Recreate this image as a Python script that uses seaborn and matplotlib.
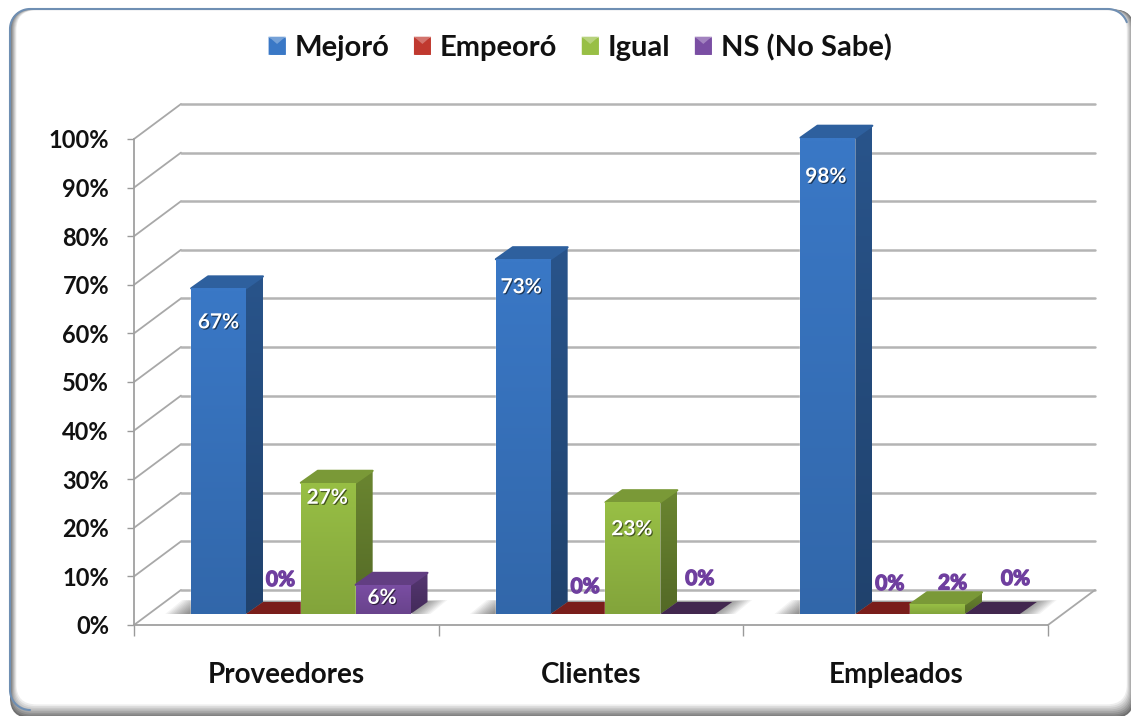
import numpy as np
import pandas as pd
import seaborn as sns
import matplotlib
matplotlib.use("Agg")
import matplotlib.pyplot as plt
import matplotlib.patheffects as pe
from matplotlib.colors import to_rgb
from matplotlib.patches import FancyBboxPatch, Polygon
from matplotlib.path import Path
from matplotlib.ticker import FuncFormatter
from matplotlib.transforms import Affine2D, IdentityTransform

groups = ["Proveedores", "Clientes", "Empleados"]
answers = ["Mejoró", "Empeoró", "Igual", "NS (No Sabe)"]
mejoro = [67, 73, 98]
empeoro = [0, 0, 0]
igual = [27, 23, 2]
no_sabe = [6, 0, 0]
y_ticks = list(range(0, 101, 10))

colors = ["#3a78c6", "#c0392f", "#98bf45", "#7a4ea3"]
zero_caps = ["#2f62a3", "#7a1e1b", "#6f9530", "#42274f"]

# hand placed labels in the original, pixels from the middle of each bar top
label_nudge = [
    [(0, -34), (7, 34), (-1, -15), (-1, -13)],
    [(-2, -28), (7, 27), (-1, -27), (12, 35)],
    [(-2, -39), (7, 30), (15, 21), (23, 35)],
]

# fake 3d: depth of the walls and of the bars, in pixels
WALL_DX, WALL_DY = 47, 35
BAR_DX, BAR_DY = 14.5, 11
SIDE_DX, SIDE_DY = 17, 12


def mix(color, other, amount):
    a = np.array(to_rgb(color))
    b = np.array(to_rgb(other))
    return tuple(a * (1 - amount) + b * amount)


def grad_poly(ax, verts, top, bottom, z):
    xs = [v[0] for v in verts]
    ys = [v[1] for v in verts]
    t = np.linspace(0, 1, 64)[:, None, None]
    arr = np.array(to_rgb(top))[None, None, :] * (1 - t) + np.array(to_rgb(bottom))[None, None, :] * t
    im = ax.imshow(arr, extent=(min(xs), max(xs), min(ys), max(ys)), aspect="auto",
                   transform=IdentityTransform(), zorder=z, interpolation="bilinear")
    im.set_clip_box(ax.figure.bbox)
    im.set_clip_path(Path(verts + [verts[0]]), IdentityTransform())


df = pd.DataFrame({
    "Grupo": groups * 4,
    "Respuesta": np.repeat(answers, 3),
    "Valor": mejoro + empeoro + igual + no_sabe,
})

sns.set_theme(style="white")
plt.rcParams["font.family"] = ["Lato", "DejaVu Sans"]
plt.rcParams["font.weight"] = "bold"
plt.rcParams["text.color"] = "#111111"
plt.rcParams["xtick.labelcolor"] = "#111111"
plt.rcParams["ytick.labelcolor"] = "#111111"

fig = plt.figure(figsize=(11.31, 7.16), dpi=100, facecolor="white")

# card behind the chart: nested boxes fade from the grey edge into white
bg = fig.add_axes([0, 0, 1, 1], zorder=0)
bg.set_xlim(0, 1131)
bg.set_ylim(716, 0)
bg.axis("off")
steps = 9
for k in range(steps):
    left, right = 10 + k * 0.8, 1134 - k * 0.9
    top, bottom = 9.5 + k * 0.1, 718 - k * 1.7
    bg.add_patch(FancyBboxPatch((left, top), right - left, bottom - top,
                                boxstyle="round,pad=0,rounding_size=20",
                                fc=mix("#707070", "white", k / (steps - 1)), ec="none"))
ang = np.radians(np.linspace(180, 90, 20))
arc_tl = np.c_[30 + 20 * np.cos(ang), 29 - 20 * np.sin(ang)]
ang = np.radians(np.linspace(90, 20, 16))
arc_tr = np.c_[1108 + 20 * np.cos(ang), 29 - 20 * np.sin(ang)]
ang = np.radians(np.linspace(270, 180, 20))
arc_bl = np.c_[30 + 20 * np.cos(ang), 690 - 20 * np.sin(ang)]
edge = np.vstack([arc_bl, arc_tl, arc_tr])
bg.plot(edge[:, 0], edge[:, 1], color="#6f8fb3", lw=1.5)

ax = fig.add_axes([134 / 1131, 1 - 625 / 716, 914 / 1131, 486 / 716], zorder=1)
ax.patch.set_alpha(0)
sns.barplot(data=df, x="Grupo", y="Valor", hue="Respuesta", hue_order=answers,
            order=groups, palette=colors, saturation=1, width=0.72, gap=0, ax=ax)
ax.set_xlim(-0.5, 2.5)
ax.set_ylim(0, 100)
ax.set_autoscale_on(False)
ax.set_xlabel("")
ax.set_ylabel("")

ax.set_yticks(y_ticks)
ax.yaxis.set_major_formatter(FuncFormatter(lambda v, _: f"{v:.0f}%"))
ax.tick_params(axis="y", length=5, width=1, color="#9a9a9a", pad=13, labelsize=17, left=True)
ax.tick_params(axis="x", which="major", length=0, pad=26.5, labelsize=20)
ax.set_xticks([-0.5, 0.5, 1.5, 2.5], minor=True)
ax.tick_params(axis="x", which="minor", length=8, width=1, color="#9a9a9a", bottom=True)
for side in ["top", "right"]:
    ax.spines[side].set_visible(False)
for side in ["left", "bottom"]:
    ax.spines[side].set_color("#a0a0a0")
    ax.spines[side].set_linewidth(1.3)
    ax.spines[side].set_zorder(1)

to_px = ax.transData.transform
x0, x1 = ax.get_xlim()

# walls and floor
wall_kw = dict(transform=IdentityTransform(), clip_on=False, zorder=1)
for v in y_ticks:
    fx, fy = to_px((x0, v))
    rx, _ = to_px((x1, v))
    ax.plot([fx, fx + WALL_DX], [fy, fy + WALL_DY], color="#a8a8a8", lw=1.3, **wall_kw)
    ax.plot([fx + WALL_DX, rx + WALL_DX], [fy + WALL_DY, fy + WALL_DY],
            color="#b4b4b4", lw=1.8, **wall_kw)
rx, ry = to_px((x1, 0))
ax.plot([rx, rx + WALL_DX], [ry, ry + WALL_DY], color="#a8a8a8", lw=1.3, **wall_kw)

# bars, left to right so each one covers the side of the one before
shift = ax.transData + Affine2D().translate(BAR_DX, BAR_DY)
containers = list(ax.containers)
for g in range(len(groups)):
    # soft shadow on the floor
    first = containers[0][g]
    last = containers[-1][g]
    left = shift.transform((first.get_x(), 0))[0]
    right = shift.transform((last.get_x() + last.get_width(), 0))[0]
    base = shift.transform((0, 0))[1]
    for k in range(12):
        spread = 26 - k * 2
        ax.add_patch(Polygon([(left - spread, base), (right + spread - 6, base),
                              (right + spread + SIDE_DX - 6, base + SIDE_DY + 2 - k * 0.15),
                              (left - spread + SIDE_DX, base + SIDE_DY + 2 - k * 0.15)],
                             fc="black", ec="none", alpha=0.045,
                             transform=IdentityTransform(), clip_on=False, zorder=2))
    for h, cont in enumerate(containers):
        bar = cont[g]
        z = 3 + g * 4 + h * 0.5
        bar.set_transform(shift)
        bar.set_clip_on(False)
        bar.set_zorder(z)
        c = colors[h]
        bx0, by0 = shift.transform((bar.get_x(), 0))
        bx1, by1 = shift.transform((bar.get_x() + bar.get_width(), bar.get_height()))
        cap = [(bx0, by1), (bx1, by1), (bx1 + SIDE_DX, by1 + SIDE_DY), (bx0 + SIDE_DX, by1 + SIDE_DY)]
        if bar.get_height() == 0:
            ax.add_patch(Polygon(cap, fc=zero_caps[h], ec="none", transform=IdentityTransform(),
                                 clip_on=False, zorder=z))
            continue
        side = [(bx1, by0), (bx1 + SIDE_DX, by0 + SIDE_DY), (bx1 + SIDE_DX, by1 + SIDE_DY), (bx1, by1)]
        grad_poly(ax, side, mix(c, "black", 0.3), mix(c, "black", 0.45), z + 0.1)
        ax.add_patch(Polygon(cap, fc=mix(c, "black", 0.2), ec=mix(c, "black", 0.2), lw=1.5, joinstyle="round",
                             transform=IdentityTransform(), clip_on=False, zorder=z + 0.1))
        front = [(bx0, by0), (bx1, by0), (bx1, by1), (bx0, by1)]
        grad_poly(ax, front, c, mix(c, "black", 0.14), z + 0.2)

    # data labels
    for h, cont in enumerate(containers):
        bar = cont[g]
        val = bar.get_height()
        white = val >= 6
        ax.annotate(f"{val:.0f}%", xy=(bar.get_x() + bar.get_width() / 2, val), xycoords=shift,
                    xytext=label_nudge[g][h], textcoords="offset pixels", ha="center", va="center",
                    fontsize=15, color="white" if white else "#6f3f9f", zorder=30,
                    annotation_clip=False,
                    path_effects=[pe.withSimplePatchShadow(offset=(0.8, -0.8), alpha=0.55, shadow_rgbFace="black")] if white
                    else [pe.withStroke(linewidth=1.0, foreground="#6f3f9f")])

leg = ax.legend(loc="center", bbox_to_anchor=(580 / 1131, 1 - 47.5 / 716), bbox_transform=fig.transFigure,
                ncol=4, frameon=False, fontsize=21, handlelength=0.58, handleheight=0.58,
                handletextpad=0.3, columnspacing=0.85, title=None)
fig.canvas.draw()
for handle, c in zip(leg.get_patches(), colors):
    box = handle.get_window_extent()
    mid = ((box.x0 + box.x1) / 2, box.y1 - (box.y1 - box.y0) * 0.4)
    fig.add_artist(Polygon([(box.x0, box.y0), (box.x1, box.y0), (box.x1, box.y1), mid, (box.x0, box.y1)],
                           fc=c, ec="none", transform=IdentityTransform(), zorder=5))
    fig.add_artist(Polygon([(box.x0, box.y1), (box.x1, box.y1), mid], fc=mix(c, "white", 0.3), ec="none",
                           transform=IdentityTransform(), zorder=5))

fig.savefig("out.png", dpi=100)
